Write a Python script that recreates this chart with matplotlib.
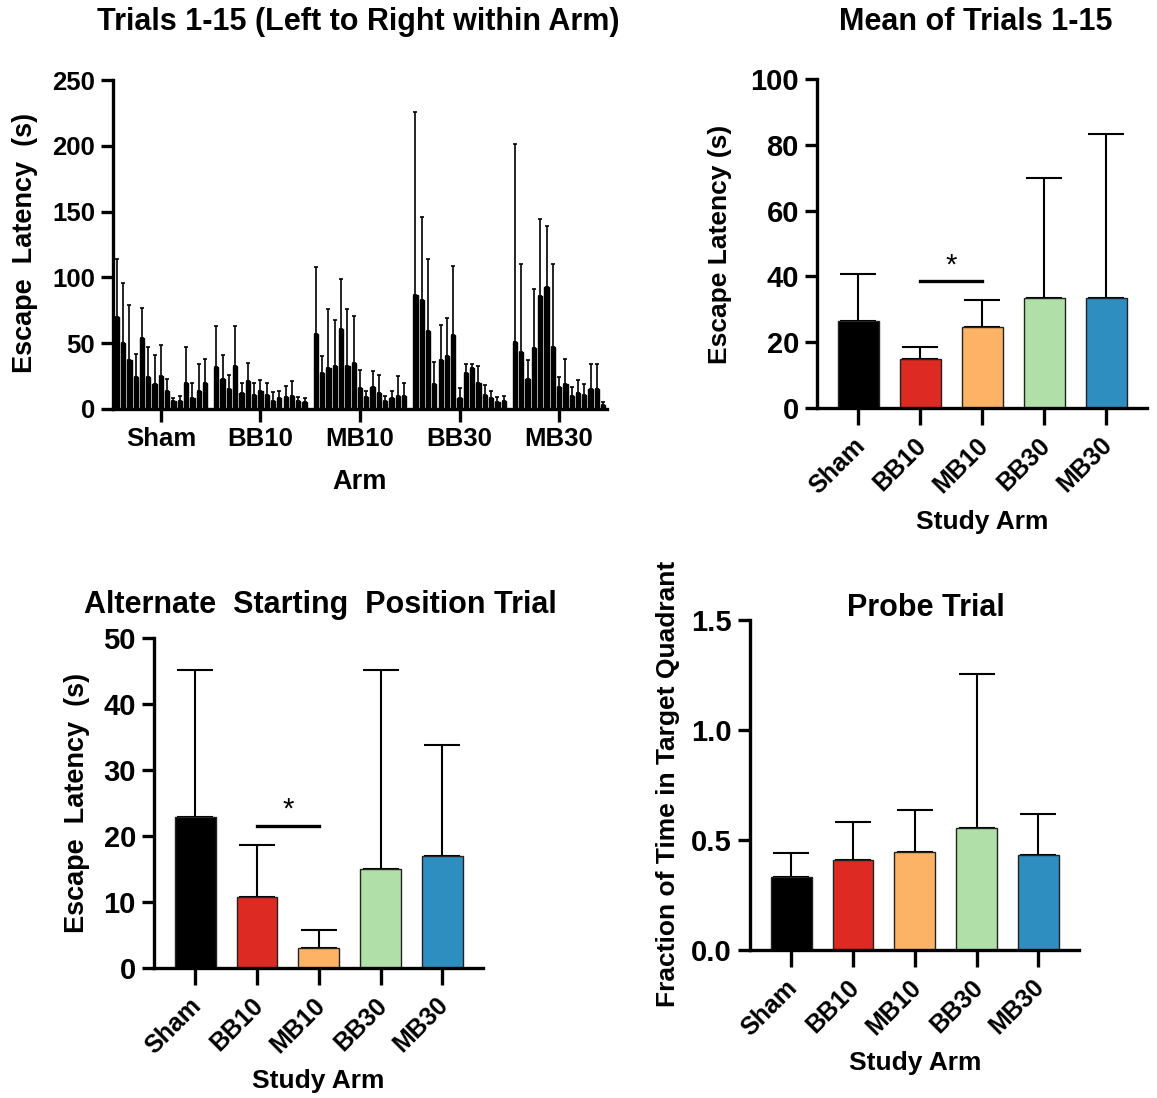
import numpy as np
import matplotlib
matplotlib.use("Agg")
import matplotlib.pyplot as plt
from matplotlib.transforms import ScaledTranslation

plt.rcParams['font.family'] = ['Liberation Sans', 'DejaVu Sans']
plt.rcParams['font.weight'] = 'bold'

W, H = 1157, 1098

arms = ["Sham", "BB10", "MB10", "BB30", "MB30"]
colors = ["#000000", "#dd2a22", "#fdb366", "#b0dfa8", "#2f8ec0"]

# trials 1-15 per arm (mean, upper SD)
trial_means = {
    "Sham": [70, 50, 37, 24, 54, 24, 19, 25, 14, 6, 6, 20, 8, 14, 20],
    "BB10": [32, 23, 15, 33, 12, 21, 11, 14, 11, 6, 8, 9, 10, 6, 5],
    "MB10": [57, 27, 31, 33, 61, 33, 35, 16, 9, 17, 12, 6, 8, 10, 10],
    "BB30": [87, 83, 59, 19, 37, 40, 56, 8, 27, 31, 20, 11, 8, 5, 6],
    "MB30": [51, 43, 23, 46, 86, 93, 47, 17, 19, 10, 12, 11, 15, 15, 3],
}
trial_sd = {
    "Sham": [44, 46, 42, 18, 23, 23, 22, 24, 9, 2.6, 4, 27, 12, 20, 18],
    "BB10": [31, 18, 11, 30, 8, 14, 9, 8, 9, 7, 6, 8.5, 11, 3, 3.2],
    "MB10": [51, 13, 45, 35, 38, 43, 36, 14, 5, 12, 14, 4, 6, 15, 10],
    "BB30": [139, 63, 55, 17, 27, 29, 53, 8, 7, 3, 13, 7, 6, 4, 4],
    "MB30": [150, 67, 14, 45, 58, 46, 63, 7, 19, 7, 10, 8, 19, 19, 2],
}

mean_latency = [26.5, 14.8, 24.7, 33.5, 33.5]
mean_latency_sd = [14.3, 3.7, 8.0, 36.3, 49.7]

alt_latency = [22.9, 10.7, 3.1, 15.0, 16.9]
alt_latency_sd = [22.3, 7.9, 2.7, 30.2, 16.9]

probe_frac = [0.33, 0.41, 0.445, 0.555, 0.43]
probe_frac_sd = [0.11, 0.17, 0.19, 0.70, 0.19]


def rect(l, r, t, b):
    return [l / W, 1 - b / H, (r - l) / W, (b - t) / H]


def style(ax):
    for s in ["top", "right"]:
        ax.spines[s].set_visible(False)
    for s in ["left", "bottom"]:
        ax.spines[s].set_linewidth(2.4)
    ax.tick_params(width=2.4, length=9, labelsize=18.5, pad=4)


def ftext(x, y, s, **kw):
    fig.text(x / W, 1 - y / H, s, ha="center", va="center", fontweight="bold", **kw)


fig = plt.figure(figsize=(W / 100, H / 100), dpi=100)

# top left: all trials
ax1 = fig.add_axes(rect(113, 607, 80, 409))
gap = 15.8
for i, a in enumerate(arms):
    x = i * gap + np.arange(15)
    m = np.array(trial_means[a])
    sd = np.array(trial_sd[a])
    ax1.errorbar(x, m, yerr=[np.zeros_like(sd), sd], fmt="none", ecolor="black",
                 elinewidth=1.2, capsize=1.5, capthick=1.2)
    ax1.bar(x, m, width=0.68, color="black", edgecolor="black", zorder=3)
ax1.set_xlim(-0.6, 4 * gap + 14 + 0.6)
ax1.set_ylim(0, 250)
ax1.set_yticks([0, 50, 100, 150, 200, 250])
ax1.set_xticks([i * gap + 7 for i in range(5)])
ax1.set_xticklabels(arms)
style(ax1)
ftext(358, 22, "Trials 1-15 (Left to Right within Arm)", fontsize=22)
ftext(25, 243, "Escape  Latency  (s)", fontsize=19.5, rotation=90)
ftext(360, 482, "Arm", fontsize=19.5)


def summary(ax, vals, sds, ylim, yticks, fmt=None):
    x = np.arange(5)
    ax.errorbar(x, vals, yerr=[np.zeros(5), sds], fmt="none", ecolor="black",
                elinewidth=1.5, capsize=13, capthick=1.5, zorder=1)
    ax.bar(x, vals, width=0.66, color=colors, edgecolor="#222222", linewidth=1, zorder=2)
    ax.set_xlim(-0.67, 4.66)
    ax.set_ylim(*ylim)
    ax.set_yticks(yticks)
    if fmt:
        ax.set_yticklabels([fmt.format(v) for v in yticks])
    ax.set_xticks(x)
    ax.set_xticklabels(arms, rotation=45, ha="right", va="top", rotation_mode="anchor")
    style(ax)
    ax.tick_params(axis="x", length=12, pad=6, labelsize=18)
    ax.tick_params(axis="y", labelsize=21)
    shift = ScaledTranslation(-6 / 100, 0, fig.dpi_scale_trans)
    for lab in ax.get_xticklabels():
        lab.set_transform(lab.get_transform() + shift)


# top right
ax2 = fig.add_axes(rect(817, 1147, 79, 408))
summary(ax2, mean_latency, mean_latency_sd, (0, 100), [0, 20, 40, 60, 80, 100])
ax2.plot([1, 2], [38.5, 38.5], color="black", lw=2.4)
ax2.text(1.5, 39.0, "*", ha="center", va="bottom", fontsize=21, fontweight="normal")
ftext(976, 22, "Mean of Trials 1-15", fontsize=22)
ftext(720, 244, "Escape Latency (s)", fontsize=19, rotation=90)
ftext(982, 522, "Study Arm", fontsize=19)

# bottom left
ax3 = fig.add_axes(rect(154, 483, 638, 968))
summary(ax3, alt_latency, alt_latency_sd, (0, 50), [0, 10, 20, 30, 40, 50])
ax3.plot([1, 2], [21.5, 21.5], color="black", lw=2.4)
ax3.text(1.5, 21.9, "*", ha="center", va="bottom", fontsize=21, fontweight="normal")
ftext(320, 605, "Alternate  Starting  Position Trial", fontsize=22)
ftext(77, 803, "Escape  Latency  (s)", fontsize=19.5, rotation=90)
ftext(318, 1081, "Study Arm", fontsize=19)

# bottom right
ax4 = fig.add_axes(rect(750, 1079, 620, 950))
summary(ax4, probe_frac, probe_frac_sd, (0, 1.5), [0, 0.5, 1.0, 1.5], fmt="{:.1f}")
ftext(926, 608, "Probe Trial", fontsize=22)
ftext(668, 784, "Fraction of Time in Target Quadrant", fontsize=19, rotation=90)
ftext(915, 1063, "Study Arm", fontsize=19)

fig.savefig("out.png", dpi=100)
